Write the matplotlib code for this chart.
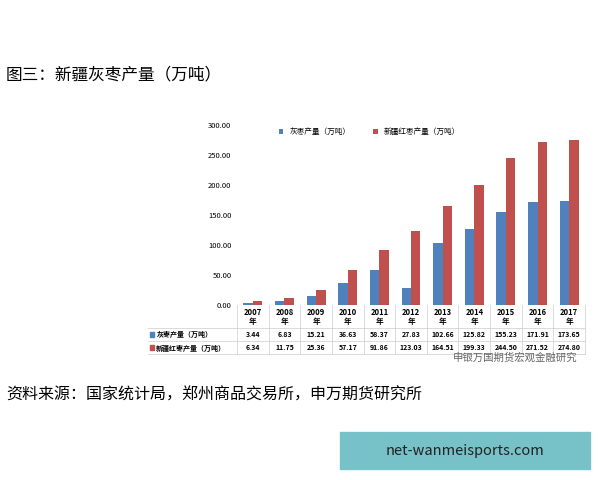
import matplotlib
matplotlib.use("Agg")
import matplotlib.pyplot as plt
import matplotlib.transforms as mt
from matplotlib.patches import Rectangle

plt.rcParams['font.family'] = ['Noto Sans CJK SC', 'DejaVu Sans']
years = ['2007\n年','2008\n年','2009\n年','2010\n年','2011\n年','2012\n年','2013\n年','2014\n年','2015\n年','2016\n年','2017\n年']
grey = [3.44,6.83,15.21,36.63,58.37,27.83,102.66,125.82,155.23,171.91,173.65]
red = [6.34,11.75,25.36,57.17,91.86,123.03,164.51,199.33,244.50,271.52,274.80]
s1 = '灰枣产量（万吨）'
s2 = '新疆红枣产量（万吨）'
c1, c2 = '#4f81bd', '#c0504d'

fig = plt.figure(figsize=(6,4.8), dpi=100)
ax = fig.add_axes([0.395, 0.365, 0.58, 0.375])
x = range(len(years))
w = 0.3
ax.bar([i-w/2 for i in x], grey, w, color=c1, label=s1)
ax.bar([i+w/2 for i in x], red, w, color=c2, label=s2)
ax.set_xlim(-0.5, len(years)-0.5)
ax.set_ylim(0, 300)
ax.set_yticks(range(0,301,50))
ax.set_yticklabels([f'{v:.2f}' for v in range(0,301,50)], fontsize=5.5)
ax.tick_params(axis='y', length=0, pad=4)
ax.set_xticks([])
for s in ['top','right','bottom']:
    ax.spines[s].set_visible(False)
ax.spines['left'].set_visible(False)
ax.axhline(0, color='#999999', lw=0.6)
ax.legend(loc='upper left', bbox_to_anchor=(0.1, 1.02), ncol=2, fontsize=5.5, frameon=False,
          handlelength=0.6, handleheight=0.6, columnspacing=3)

tr = mt.blended_transform_factory(ax.transData, ax.transAxes)
for i in x:
    ax.text(i, -0.02, years[i], transform=tr, ha='center', va='top', fontsize=5.5, fontweight='bold', linespacing=1.0)
    ax.text(i, -0.165, f'{grey[i]:.2f}', transform=tr, ha='center', va='center', fontsize=5, fontweight='bold')
    ax.text(i, -0.24, f'{red[i]:.2f}', transform=tr, ha='center', va='center', fontsize=5, fontweight='bold')
    ax.plot([i+0.5, i+0.5], [0, -0.275], transform=tr, color='#cccccc', lw=0.5, clip_on=False)
ax.plot([-0.5, -0.5], [0, -0.275], transform=tr, color='#cccccc', lw=0.5, clip_on=False)
for yy in [-0.13, -0.2, -0.275]:
    ax.plot([-3.3, 10.5], [yy, yy], transform=tr, color='#cccccc', lw=0.5, clip_on=False)
ax.add_patch(Rectangle((-3.25, -0.178), 0.12, 0.028, transform=tr, color=c1, clip_on=False))
ax.add_patch(Rectangle((-3.25, -0.253), 0.12, 0.028, transform=tr, color=c2, clip_on=False))
ax.text(-3.05, -0.165, s1, transform=tr, ha='left', va='center', fontsize=5, fontweight='bold')
ax.text(-3.05, -0.24, s2, transform=tr, ha='left', va='center', fontsize=5, fontweight='bold')

fig.text(0.01, 0.843, '图三：新疆灰枣产量（万吨）', fontsize=12, va='center')
fig.text(0.01, 0.177, '资料来源：国家统计局，郑州商品交易所，申万期货研究所', fontsize=11.5, va='center')
fig.text(0.755, 0.255, '申银万国期货宏观金融研究', fontsize=7.5, color='#666666', va='center')
fig.patches.append(Rectangle((0.567, 0.022), 0.417, 0.078, transform=fig.transFigure, color='#76c2c8'))
fig.text(0.775, 0.061, 'net-wanmeisports.com', fontsize=10.5, ha='center', va='center', color='#222222')
fig.savefig('out.png', dpi=100, facecolor='white')
